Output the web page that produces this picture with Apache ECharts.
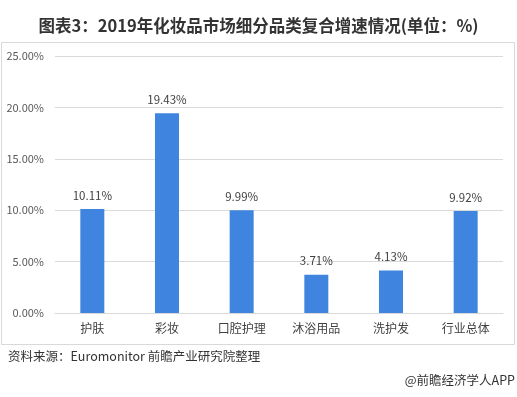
<!DOCTYPE html>
<html>
<head>
<meta charset="utf-8">
<script src="https://cdn.jsdelivr.net/npm/echarts@6/dist/echarts.min.js"></script>
<style>
  html, body { margin: 0; padding: 0; background: #fff; }
  #main { width: 517px; height: 397px; }
</style>
</head>
<body>
<div id="main"></div>
<script>
// 细分品类及复合增速(%)
var categories = ['护肤', '彩妆', '口腔护理', '沐浴用品', '洗护发', '行业总体'];
var growth = [10.11, 19.43, 9.99, 3.71, 4.13, 9.92];
var yTicks = [0, 5, 10, 15, 20, 25];

var myChart = echarts.init(document.getElementById('main'));
var font = '"Microsoft YaHei", "Noto Sans CJK SC", sans-serif';

var option = {
  animation: false,
  title: {
    text: '图表3：2019年化妆品市场细分品类复合增速情况(单位：%)',
    left: 'center',
    top: 12,
    textStyle: { fontFamily: font, fontSize: 16.5, fontWeight: 'bold', color: '#333' }
  },
  graphic: [
    {
      type: 'rect',
      shape: { x: 1.5, y: 42.5, width: 513, height: 302 },
      style: { fill: 'none', stroke: '#d9d9d9', lineWidth: 1 },
      z: -1
    },
    {
      type: 'text',
      left: 8,
      top: 350,
      style: { text: '资料来源：Euromonitor 前瞻产业研究院整理', fontFamily: font, fontSize: 12.5, fill: '#333' }
    },
    {
      type: 'text',
      right: 2,
      top: 374,
      style: { text: '@前瞻经济学人APP', fontFamily: font, fontSize: 12.5, fill: '#333' }
    }
  ],
  grid: { left: 55, right: 14, top: 56, bottom: 84, containLabel: false },
  xAxis: {
    type: 'category',
    data: categories,
    axisLine: { show: true, lineStyle: { color: '#d9d9d9' } },
    axisTick: { show: false },
    axisLabel: { fontFamily: font, fontSize: 12, color: '#404040', margin: 9 }
  },
  yAxis: {
    type: 'value',
    min: yTicks[0],
    max: yTicks[yTicks.length - 1],
    interval: 5,
    axisLine: { show: false },
    axisTick: { show: false },
    splitLine: { lineStyle: { color: '#d9d9d9' } },
    axisLabel: {
      fontFamily: font, fontSize: 11, color: '#595959', margin: 11,
      formatter: function (v) { return v.toFixed(2) + '%'; }
    }
  },
  series: [
    {
      type: 'bar',
      data: growth,
      barWidth: 24,
      itemStyle: { color: '#3f85e0' },
      label: {
        show: true,
        position: 'top',
        distance: 8,
        fontFamily: font,
        fontSize: 11.5,
        color: '#404040',
        formatter: function (p) { return p.value.toFixed(2) + '%'; }
      }
    }
  ]
};

option && myChart.setOption(option);
</script>
</body>
</html>
